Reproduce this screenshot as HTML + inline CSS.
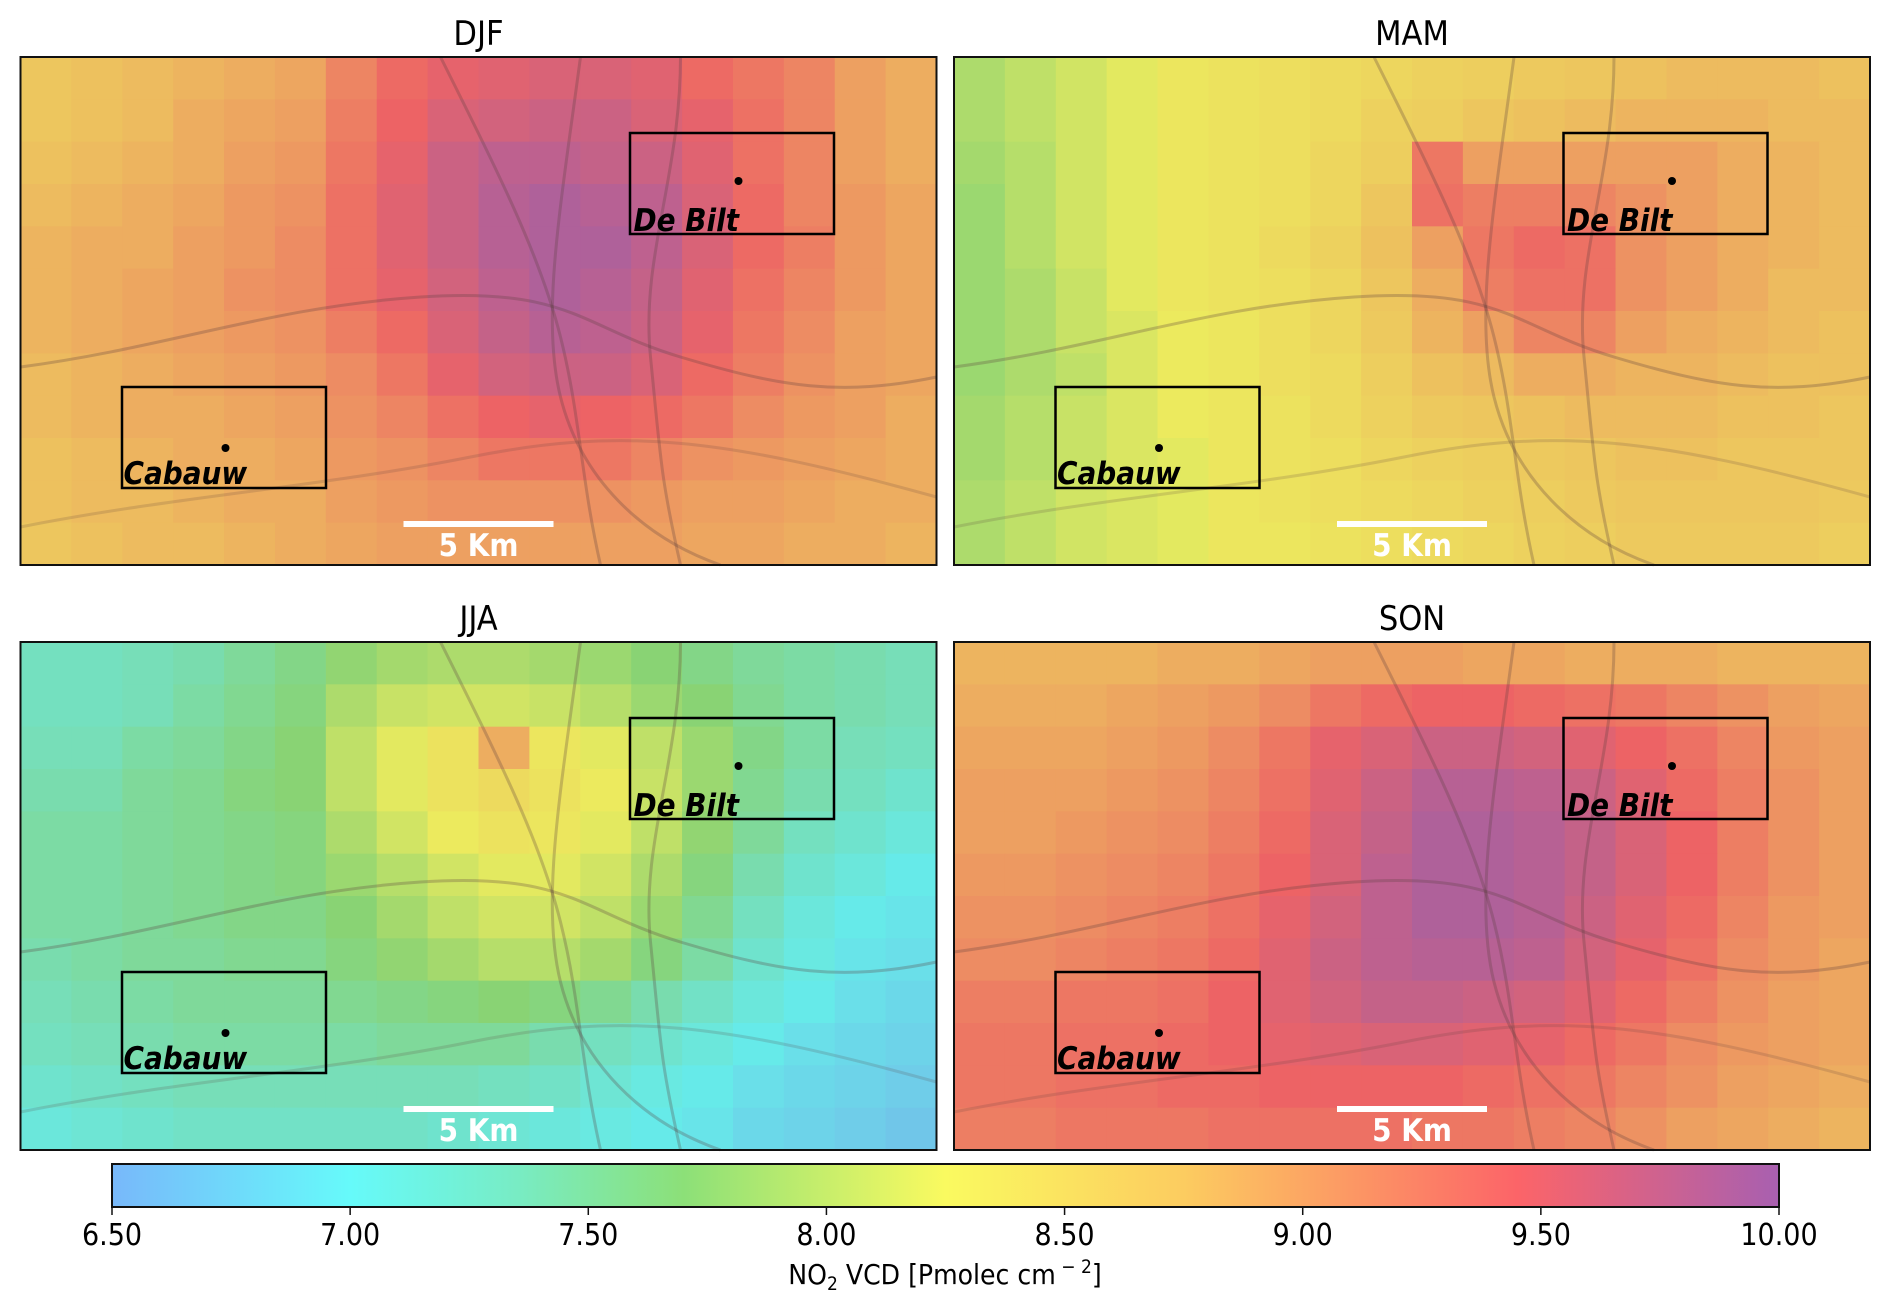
<!DOCTYPE html>
<html><head><meta charset="utf-8">
<style>
html,body{margin:0;padding:0;background:#fff;}
svg{display:block;}
text{font-family:"DejaVu Sans Condensed","DejaVu Sans","Liberation Sans",sans-serif;}
</style></head>
<body>
<svg id="fig" width="1892" height="1306" viewBox="0 0 1892 1306" xmlns="http://www.w3.org/2000/svg">
<defs>
<linearGradient id="cbgrad" x1="0" x2="1" y1="0" y2="0"></linearGradient>
</defs>
<g id="panels"></g>
<g id="colorbar"></g>
</svg>
<script>
const seasons = ["DJF","MAM","JJA","SON"];
const djf = [
[8.7,8.75,8.8,8.85,8.9,8.95,9.2,9.4,9.5,9.55,9.6,9.6,9.55,9.4,9.3,9.2,9.0,8.9],
[8.7,8.75,8.8,8.9,8.95,9.0,9.25,9.45,9.6,9.65,9.7,9.7,9.6,9.5,9.35,9.2,9.0,8.9],
[8.75,8.8,8.85,8.9,9.0,9.05,9.3,9.5,9.7,9.8,9.8,9.75,9.7,9.55,9.35,9.2,9.0,8.9],
[8.8,8.85,8.9,8.95,9.05,9.1,9.35,9.55,9.7,9.85,9.9,9.85,9.8,9.6,9.4,9.2,9.05,8.95],
[8.85,8.9,8.9,9.0,9.05,9.15,9.35,9.55,9.7,9.85,9.9,9.9,9.8,9.6,9.4,9.25,9.05,8.95],
[8.85,8.9,8.95,9.0,9.1,9.15,9.35,9.5,9.65,9.8,9.9,9.85,9.75,9.55,9.35,9.2,9.05,8.95],
[8.85,8.9,8.95,9.0,9.05,9.1,9.25,9.4,9.6,9.75,9.85,9.8,9.7,9.5,9.3,9.15,9.0,8.95],
[8.8,8.85,8.9,8.95,9.0,9.05,9.15,9.3,9.5,9.65,9.7,9.7,9.6,9.4,9.25,9.1,9.0,8.95],
[8.8,8.85,8.9,8.9,8.95,9.0,9.1,9.2,9.35,9.45,9.5,9.45,9.4,9.3,9.15,9.05,9.0,8.9],
[8.75,8.8,8.85,8.9,8.9,8.95,9.05,9.1,9.2,9.3,9.3,9.3,9.2,9.1,9.05,9.0,8.95,8.9],
[8.75,8.8,8.8,8.85,8.9,8.9,9.0,9.05,9.1,9.1,9.1,9.1,9.05,9.0,9.0,8.95,8.9,8.9],
[8.7,8.75,8.8,8.8,8.85,8.9,8.95,9.0,9.0,9.0,9.0,9.0,9.0,8.95,8.95,8.9,8.9,8.85]];
const mam = [
[7.9,8.0,8.1,8.2,8.3,8.35,8.4,8.45,8.5,8.55,8.6,8.65,8.7,8.75,8.8,8.8,8.8,8.75],
[7.9,8.0,8.1,8.2,8.3,8.35,8.4,8.45,8.55,8.6,8.7,8.75,8.8,8.85,8.85,8.85,8.8,8.8],
[7.85,7.95,8.1,8.2,8.3,8.35,8.4,8.5,8.6,9.3,9.0,9.0,9.0,9.0,9.0,8.9,8.85,8.8],
[7.8,7.95,8.1,8.2,8.3,8.35,8.4,8.5,8.7,9.35,9.25,9.25,9.2,9.1,9.0,8.9,8.85,8.8],
[7.8,7.95,8.1,8.2,8.3,8.35,8.45,8.55,8.75,9.0,9.3,9.4,9.35,9.1,9.0,8.9,8.85,8.8],
[7.8,7.9,8.05,8.2,8.3,8.35,8.4,8.5,8.7,8.9,9.25,9.35,9.35,9.1,9.0,8.9,8.8,8.8],
[7.8,7.9,8.05,8.15,8.25,8.3,8.4,8.5,8.65,8.85,9.0,9.2,9.2,9.0,8.9,8.85,8.8,8.75],
[7.8,7.9,8.0,8.15,8.25,8.3,8.4,8.45,8.6,8.75,8.8,8.9,8.9,8.85,8.85,8.8,8.75,8.75],
[7.85,7.95,8.05,8.15,8.25,8.3,8.35,8.45,8.55,8.65,8.7,8.75,8.8,8.8,8.8,8.75,8.75,8.7],
[7.85,7.95,8.05,8.15,8.2,8.3,8.35,8.4,8.5,8.55,8.6,8.65,8.7,8.75,8.75,8.7,8.7,8.7],
[7.9,8.0,8.1,8.15,8.2,8.3,8.35,8.4,8.45,8.5,8.55,8.6,8.65,8.7,8.7,8.7,8.7,8.65],
[7.9,8.0,8.1,8.15,8.2,8.3,8.3,8.35,8.4,8.45,8.5,8.55,8.6,8.65,8.65,8.65,8.65,8.6]];
const jja = [
[7.3,7.3,7.35,7.4,7.5,7.6,7.75,7.85,7.9,7.9,7.85,7.8,7.7,7.6,7.5,7.45,7.4,7.35],
[7.3,7.3,7.35,7.45,7.55,7.65,7.9,8.05,8.1,8.1,8.05,7.95,7.8,7.7,7.55,7.45,7.4,7.35],
[7.35,7.35,7.45,7.5,7.6,7.7,8.0,8.2,8.35,8.9,8.3,8.2,8.0,7.8,7.6,7.45,7.35,7.3],
[7.4,7.4,7.5,7.55,7.65,7.7,8.0,8.2,8.35,8.45,8.35,8.25,8.05,7.8,7.55,7.4,7.3,7.2],
[7.45,7.45,7.5,7.55,7.6,7.65,7.9,8.1,8.25,8.35,8.3,8.2,8.0,7.75,7.5,7.3,7.2,7.1],
[7.45,7.45,7.5,7.55,7.6,7.65,7.8,7.95,8.1,8.2,8.2,8.1,7.9,7.65,7.4,7.2,7.1,7.0],
[7.45,7.45,7.5,7.55,7.6,7.6,7.7,7.85,8.0,8.1,8.1,8.0,7.8,7.55,7.3,7.1,7.0,6.95],
[7.4,7.45,7.5,7.5,7.55,7.55,7.65,7.75,7.85,7.95,7.95,7.85,7.65,7.45,7.2,7.05,6.95,6.9],
[7.35,7.4,7.45,7.5,7.5,7.5,7.55,7.6,7.65,7.7,7.65,7.55,7.4,7.25,7.1,7.0,6.9,6.85],
[7.3,7.35,7.4,7.45,7.45,7.45,7.45,7.5,7.5,7.5,7.4,7.3,7.2,7.1,7.0,6.9,6.85,6.8],
[7.2,7.25,7.3,7.35,7.35,7.35,7.35,7.35,7.35,7.3,7.25,7.15,7.05,7.0,6.9,6.85,6.8,6.75],
[7.1,7.15,7.2,7.25,7.25,7.25,7.25,7.25,7.2,7.15,7.1,7.05,7.0,6.95,6.85,6.8,6.75,6.7]];
const son = [
[8.85,8.85,8.85,8.85,8.9,8.9,8.95,9.0,9.0,9.0,8.95,8.95,8.9,8.9,8.9,8.85,8.85,8.85],
[8.9,8.9,8.9,8.95,9.0,9.05,9.15,9.3,9.4,9.45,9.45,9.4,9.35,9.3,9.2,9.1,9.0,8.95],
[8.95,8.95,8.95,9.0,9.05,9.15,9.3,9.5,9.6,9.7,9.7,9.65,9.55,9.45,9.35,9.2,9.05,9.0],
[9.0,9.0,9.0,9.05,9.1,9.2,9.35,9.55,9.7,9.85,9.85,9.8,9.7,9.55,9.4,9.25,9.1,9.0],
[9.0,9.0,9.05,9.1,9.15,9.25,9.4,9.6,9.75,9.9,9.9,9.85,9.75,9.6,9.45,9.25,9.1,9.0],
[9.05,9.05,9.1,9.15,9.2,9.3,9.45,9.6,9.8,9.9,9.9,9.85,9.75,9.6,9.45,9.25,9.1,9.0],
[9.1,9.1,9.15,9.2,9.25,9.35,9.5,9.65,9.8,9.9,9.9,9.85,9.7,9.55,9.4,9.2,9.05,9.0],
[9.15,9.15,9.2,9.25,9.3,9.4,9.55,9.7,9.8,9.85,9.85,9.8,9.65,9.5,9.35,9.15,9.05,8.95],
[9.25,9.25,9.3,9.3,9.35,9.45,9.55,9.65,9.75,9.75,9.7,9.65,9.55,9.4,9.25,9.1,9.0,8.95],
[9.3,9.3,9.35,9.35,9.4,9.45,9.5,9.55,9.6,9.6,9.55,9.5,9.4,9.3,9.15,9.05,9.0,8.95],
[9.3,9.3,9.35,9.35,9.4,9.4,9.45,9.45,9.45,9.45,9.4,9.35,9.3,9.2,9.1,9.0,8.95,8.9],
[9.25,9.25,9.3,9.3,9.3,9.35,9.35,9.35,9.35,9.3,9.3,9.25,9.2,9.1,9.0,8.95,8.9,8.85]];
const tickValues = [6.5,7.0,7.5,8.0,8.5,9.0,9.5,10.0];
const tickLabels = ["6.50","7.00","7.50","8.00","8.50","9.00","9.50","10.00"];
const vmin = 6.5, vmax = 10.0;

const NS="http://www.w3.org/2000/svg";
const cmapStops=[[6.5,[120,184,250]],[7.0,[102,250,250]],[7.35,[120,236,196]],[7.7,[140,224,120]],[8.25,[250,250,96]],[8.75,[252,204,96]],[9.45,[252,100,104]],[10.0,[168,96,176]]];
function cmap(v){
  v=Math.max(vmin,Math.min(vmax,v));
  for(let i=0;i<cmapStops.length-1;i++){
    const a=cmapStops[i],b=cmapStops[i+1];
    if(v<=b[0]){const t=(v-a[0])/(b[0]-a[0]);
      return a[1].map((c,k)=>Math.round(c+(b[1][k]-c)*t));}
  }
  return cmapStops[cmapStops.length-1][1];
}
function el(tag,attrs,parent){const e=document.createElementNS(NS,tag);for(const k in attrs)e.setAttribute(k,attrs[k]);parent.appendChild(e);return e;}

const panelData=[djf,mam,jja,son];
const panelPos=[[20.5,57],[954,57],[20.5,642],[954,642]];
const PW=916,PH=508;
const panelsG=document.getElementById('panels');
const mapBg=[226,214,196];

seasons.forEach((s,pi)=>{
  const [px,py]=panelPos[pi];
  const g=el('g',{transform:`translate(${px},${py})`},panelsG);
  
  
  const title=el('text',{x:PW/2,y:-12,'text-anchor':'middle','font-size':'34'},g);
  
  
  title.textContent=s;
  const data=panelData[pi];
  const rows=data.length,cols=data[0].length;
  const xs=c=>c*PW/cols, ys=r=>r*PH/rows;
  const hg=el('g',{},g);
  
  
  for(let r=0;r<rows;r++)for(let c=0;c<cols;c++){
    const col=cmap(data[r][c]).map((v,k)=>Math.max(0,Math.round(v*0.9+mapBg[k]*0.1-12)));
    const rc=el('rect',{x:xs(c),y:ys(r),width:PW/cols+0.6,height:PH/rows+0.6,fill:`rgb(${col.join(',')})`},hg);
    
    
  }
  const roads=el('g',{stroke:'rgba(90,60,60,0.28)','stroke-width':'3',fill:'none'},g);
  
  
  el('path',{d:'M0 310 C150 290 250 250 400 240 S 560 270 660 300 S 820 340 916 320'},roads);
  el('path',{d:'M560 0 C540 150 520 260 540 340 S 620 480 700 508'},roads);
  el('path',{d:'M420 0 C480 120 520 200 540 280 S 560 420 580 508'},roads);
  el('path',{d:'M660 0 C660 120 620 200 630 300 S 640 420 660 508'},roads);
  el('path',{d:'M0 470 C150 440 300 430 450 400 S 700 380 916 440',stroke:'rgba(90,60,60,0.18)'},roads);
  el('rect',{x:0,y:0,width:PW,height:PH,fill:'none',stroke:'#111','stroke-width':'2'},g);
  const b1=el('rect',{x:609.5,y:76,width:204,height:101,fill:'none',stroke:'#000','stroke-width':'2.5'},g);
  
  
  el('circle',{cx:718,cy:124,r:4,fill:'#000'},g);
  const t1=el('text',{x:613,y:174,'font-size':'31','font-weight':'bold','font-style':'italic',fill:'#000'},g);
  
  
  t1.textContent='De Bilt';
  const b2=el('rect',{x:101.5,y:330,width:204,height:101,fill:'none',stroke:'#000','stroke-width':'2.5'},g);
  
  
  el('circle',{cx:205,cy:391,r:4,fill:'#000'},g);
  const t2=el('text',{x:103,y:427,'font-size':'31','font-weight':'bold','font-style':'italic',fill:'#000'},g);
  
  
  t2.textContent='Cabauw';
  const sb=el('rect',{x:383,y:464,width:150,height:6,fill:'#fff'},g);
  
  
  const st=el('text',{x:458,y:499,'text-anchor':'middle','font-size':'31','font-weight':'bold',fill:'#fff'},g);
  
  
  st.textContent='5 Km';
});

const grad=document.getElementById('cbgrad');
cmapStops.forEach(s=>{el('stop',{offset:((s[0]-vmin)/(vmax-vmin)*100)+'%','stop-color':`rgb(${s[1].join(',')})`},grad);});
const cb=document.getElementById('colorbar');
const CX0=112,CX1=1779,CY0=1164,CY1=1207;
const cxs=v=>CX0+(v-vmin)/(vmax-vmin)*(CX1-CX0);
el('rect',{x:CX0,y:CY0,width:CX1-CX0,height:CY1-CY0,fill:'url(#cbgrad)',stroke:'#111','stroke-width':'2'},cb);
tickValues.forEach((v,i)=>{
  const x=cxs(v);
  el('line',{x1:x,x2:x,y1:CY1,y2:CY1+8,stroke:'#111','stroke-width':'1.5'},cb);
  const t=el('text',{x:x,y:1245,'text-anchor':'middle','font-size':'30'},cb);
  
  
  t.textContent=tickLabels[i];
});
const lab=el('text',{x:945,y:1284,'text-anchor':'middle','font-size':'28'},cb);


lab.innerHTML='NO<tspan font-size="19" dy="6">2</tspan><tspan dy="-6"> VCD [Pmolec cm</tspan><tspan font-size="19" dy="-11"> − 2</tspan><tspan dy="11">]</tspan>';
</script>
</body></html>
